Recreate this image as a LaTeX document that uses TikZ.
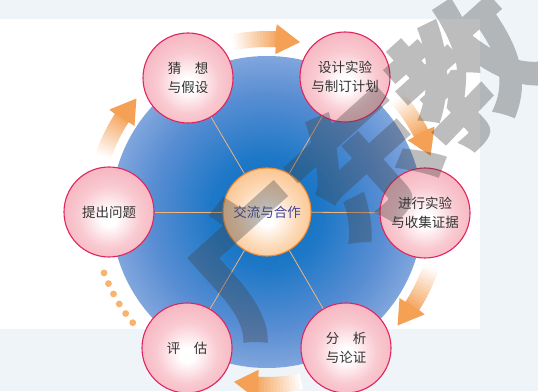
\documentclass[tikz,border=0pt]{standalone}
\usepackage{fontspec}
\newfontfamily\cjk{Noto Sans CJK SC}
\newfontfamily\wmfont[BoldFeatures={FakeBold=1.2}]{Noto Sans CJK SC}
\definecolor{pinkedge}{HTML}{E2245E}
\definecolor{pinkA}{HTML}{F4A6B4}
\definecolor{pinkB}{HTML}{F9CAD1}
\definecolor{orA}{HTML}{FAB474}
\definecolor{orB}{HTML}{FCD8B4}
\definecolor{oredge}{HTML}{F08A2C}
\definecolor{arrowor}{HTML}{F4A055}
\definecolor{dotor}{HTML}{F8B36C}
\definecolor{lineor}{HTML}{F2B47C}
\definecolor{txt}{HTML}{333333}
\definecolor{ctxt}{HTML}{45459A}
\definecolor{bgc}{HTML}{EEF4F8}
\definecolor{wmgray}{HTML}{404040}
\definecolor{bA}{HTML}{0A6CBF}
\definecolor{bB}{HTML}{1E78C7}
\definecolor{bC}{HTML}{5A8ED3}
\definecolor{bD}{HTML}{9AB6E3}
\definecolor{bE}{HTML}{CCD9F0}
\pgfdeclareradialshading{bluesph}{\pgfpoint{0bp}{0bp}}{color(0bp)=(bA); color(9bp)=(bB); color(19bp)=(bC); color(29bp)=(bD); color(35.4bp)=(bE); color(50bp)=(bE)}
\pgfdeclareradialshading{pinkball}{\pgfpoint{0bp}{-4bp}}{color(0bp)=(white); color(4bp)=(white); color(17bp)=(pinkB); color(35.4bp)=(pinkA); color(50bp)=(pinkA)}
\pgfdeclareradialshading{orball}{\pgfpoint{0bp}{-4bp}}{color(0bp)=(white); color(4bp)=(white); color(18bp)=(orB); color(35.4bp)=(orA); color(50bp)=(orA)}
\newcommand\myarrow[1]{%
  \pgfmathsetmacro\ta{#1+11.5}\pgfmathsetmacro\tp{#1-11}\pgfmathsetmacro\th{#1-3}%
  \foreach \i in {0,...,13}{%
    \pgfmathsetmacro\aa{\ta-\i*(\ta-\th)/14}%
    \pgfmathsetmacro\ab{\ta-(\i+1)*(\ta-\th)/14-0.3}%
    \pgfmathsetmacro\pc{int(3+\i*6.5)}%
    \fill[arrowor!\pc!white] (\aa:165) arc[start angle=\aa, end angle=\ab, radius=165pt] -- (\ab:181) arc[start angle=\ab, end angle=\aa, radius=181pt] -- cycle;
  }%
  \fill[arrowor] (\th+0.2:181) -- (\th:188) -- (\tp:173) -- (\th:158) -- (\th:165) -- (\th+0.2:165) -- cycle;
}
\tikzset{
  pinkc/.style={circle, minimum size=90pt, inner sep=0pt, draw=pinkedge, line width=1.1pt, shade, shading=pinkball, align=center, text=txt, font=\cjk\fontsize{13.5}{19.5}\selectfont},
  centerc/.style={circle, minimum size=88pt, inner sep=0pt, draw=oredge, line width=1.1pt, shade, shading=orball, align=center, text=ctxt, font=\cjk\fontsize{13.5}{19.5}\selectfont},
  spoke/.style={draw=lineor, line width=0.8pt},
  dotc/.style={fill=dotor}
}
\begin{document}
\begin{tikzpicture}[x=1pt,y=1pt]
\useasboundingbox (0,0) rectangle (538,391);
\clip (0,0) rectangle (538,391);
\fill[bgc] (0,0) rectangle (538,391);
\fill[white] (0,62) rectangle (480,372);
\coordinate (C) at (267,179);
\shade[shading=bluesph] (C) circle[radius=156pt];
\begin{scope}[shift={(267,179)}]
  \myarrow{90}
  \myarrow{30}
  \myarrow{-30}
  \myarrow{-90}
  \myarrow{150}
  \foreach \k in {0,...,5}{
    \pgfmathsetmacro\ang{-159.5+\k*3.8}
    \fill[dotc] (\ang:174) circle[radius=3.4pt];
  }
\end{scope}
\node[centerc] (center) at (C) {交流与合作};
\node[pinkc] (guess) at (188,313) {猜　想\\与假设};
\node[pinkc] (design) at (345,314) {设计实验\\与制订计划};
\node[pinkc] (conduct) at (425,178) {进行实验\\与收集证据};
\node[pinkc] (analyze) at (346,43) {分　析\\与论证};
\node[pinkc] (evaluate) at (187,43) {评　估};
\node[pinkc] (question) at (109,179) {提出问题};
\draw[spoke] (center) -- (guess);
\draw[spoke] (center) -- (design);
\draw[spoke] (center) -- (conduct);
\draw[spoke] (center) -- (analyze);
\draw[spoke] (center) -- (evaluate);
\draw[spoke] (center) -- (question);
\begin{scope}[transparency group, opacity=0.34]
\node[anchor=base west, inner sep=0pt, rotate=42, font=\wmfont\bfseries\fontsize{140}{140}\selectfont, text=wmgray] (wm) at (241.8,47.2) {广东教};
\end{scope}
\end{tikzpicture}
\end{document}
